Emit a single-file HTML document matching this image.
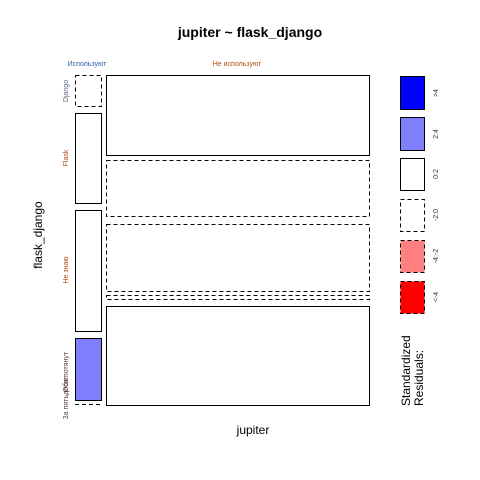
<!DOCTYPE html>
<html><head><meta charset="utf-8"><style>body{margin:0;background:#fff}svg{display:block}text{font-family:"Liberation Sans","Noto Sans CJK SC",sans-serif}</style></head>
<body>
<svg width="480" height="480" xmlns="http://www.w3.org/2000/svg">
<rect width="480" height="480" fill="#fff"/>
<text x="250" y="37" text-anchor="middle" font-size="14" font-weight="bold">jupiter ~ flask_django</text>
<text x="253" y="434" text-anchor="middle" font-size="12">jupiter</text>
<text transform="translate(42,235) rotate(-90)" text-anchor="middle" font-size="12">flask_django</text>
<text x="87" y="66" text-anchor="middle" font-size="7" fill="#2a5fa8">Используют</text>
<text x="237" y="66" text-anchor="middle" font-size="7" fill="#b04a10">Не используют</text>
<g font-size="7" text-anchor="middle">
<text transform="translate(68,91) rotate(-90)" fill="#5a6a80">Django</text>
<text transform="translate(68,158) rotate(-90)" fill="#b04a10">Flask</text>
<text transform="translate(68,270) rotate(-90)" fill="#b04a10">Не знаю</text>
<text transform="translate(68,372) rotate(-90)" fill="#5a4040">Оба потянут</text>
<text transform="translate(68,398) rotate(-90)" fill="#5a4040">За пятьдесят</text>
</g>
<g fill="#fff" stroke="#000" stroke-width="1">
<rect x="75.5" y="75.5" width="26" height="31" stroke-dasharray="4,3"/>
<rect x="75.5" y="113.5" width="26" height="90"/>
<rect x="75.5" y="210.5" width="26" height="121"/>
<rect x="75.5" y="338.5" width="26" height="62" fill="#8080ff"/>
<line x1="75" y1="404.5" x2="101" y2="404.5" stroke-dasharray="4,3"/>
<rect x="106.5" y="75.5" width="263" height="80"/>
<rect x="106.5" y="160.5" width="263" height="56" stroke-dasharray="4,3"/>
<rect x="106.5" y="224.5" width="263" height="67" stroke-dasharray="4,3"/>
<rect x="106.5" y="295.5" width="263" height="4" stroke-dasharray="4,3"/>
<rect x="106.5" y="306.5" width="263" height="99"/>
</g>
<g stroke="#000" stroke-width="1">
<rect x="400.5" y="76.5" width="24" height="33" fill="#0000ff"/>
<rect x="400.5" y="117.5" width="24" height="33" fill="#8080ff"/>
<rect x="400.5" y="158.5" width="24" height="32" fill="#fff"/>
<rect x="400.5" y="199.5" width="24" height="32" fill="#fff" stroke-dasharray="4,3"/>
<rect x="400.5" y="240.5" width="24" height="32" fill="#ff8080" stroke-dasharray="4,3"/>
<rect x="400.5" y="281.5" width="24" height="32" fill="#ff0000" stroke-dasharray="4,3"/>
</g>
<g font-size="7" text-anchor="middle" fill="#333">
<text transform="translate(438,93) rotate(-90)">&gt;4</text>
<text transform="translate(438,134) rotate(-90)">2:4</text>
<text transform="translate(438,174) rotate(-90)">0:2</text>
<text transform="translate(438,215) rotate(-90)">-2:0</text>
<text transform="translate(438,256) rotate(-90)">-4:-2</text>
<text transform="translate(438,297) rotate(-90)">&lt;-4</text>
</g>
<text transform="translate(410,406) rotate(-90)" font-size="12"><tspan x="0" y="0">Standardized</tspan><tspan x="0" y="13">Residuals:</tspan></text>
</svg>
</body></html>
